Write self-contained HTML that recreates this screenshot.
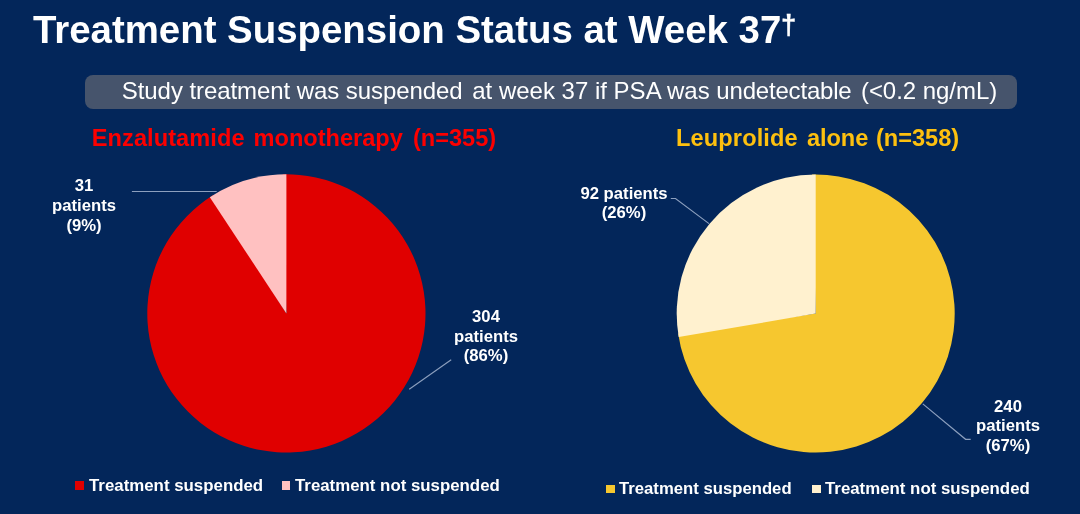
<!DOCTYPE html>
<html><head><meta charset="utf-8">
<style>
html,body{margin:0;padding:0;}
body{width:1080px;height:514px;background:#03265a;overflow:hidden;position:relative;font-family:"Liberation Sans",sans-serif;color:#fff;}
.abs{position:absolute;white-space:nowrap;}
#title{left:32.9px;top:8.4px;font-size:38.42px;font-weight:bold;line-height:44px;}
#title sup{font-size:27.5px;vertical-align:baseline;position:relative;top:-9.7px;margin-left:-0.4px;-webkit-text-stroke:0.4px #fff;}
#banner{left:84.6px;top:74.7px;width:932.2px;height:34.1px;background:#46546c;border-radius:8px;}
#bannertext{left:121.8px;top:77.4px;font-size:24px;line-height:28px;height:28px;}
.w span{position:absolute;top:0;white-space:pre;}
.h{font-weight:bold;font-size:23.6px;line-height:26px;height:26px;width:1080px;}
#h1{left:0;top:124.5px;color:#fc0000;}
#h2{left:0;top:124.5px;color:#fdc00f;}
.lab{font-weight:bold;font-size:15.6px;line-height:19.7px;text-align:center;transform:scaleX(1.07);transform-origin:50% 50%;}
.leg{font-weight:bold;font-size:16.5px;line-height:19px;transform:scaleX(1.02);transform-origin:0 50%;}
.sq{position:absolute;width:8.7px;height:8.7px;}
</style></head><body>
<div class="abs" id="title">Treatment Suspension Status at Week 37<sup>†</sup></div>
<div class="abs" id="banner"></div>
<div class="abs" id="bannertext"><span style="letter-spacing:-0.07px">Study treatment was suspended</span><span style="margin-left:2.9px"> at week 37 if PSA was </span><span style="letter-spacing:-0.19px">undetectable</span><span style="margin-left:2.8px;letter-spacing:-0.04px"> (&lt;0.2 ng/mL)</span></div>
<div class="abs h w" id="h1"><span style="left:91.8px;letter-spacing:0.06px">Enzalutamide </span><span style="left:253.6px;letter-spacing:-0.02px">monotherapy </span><span style="left:412.9px;letter-spacing:0.00px">(n=355)</span></div>
<div class="abs h w" id="h2"><span style="left:676.1px;letter-spacing:0.10px">Leuprolide </span><span style="left:807.0px;letter-spacing:-0.08px">alone </span><span style="left:876.0px;letter-spacing:-0.03px">(n=358)</span></div>
<svg class="abs" style="left:0;top:0" width="1080" height="514" viewBox="0 0 1080 514">
  <path d="M286.4 313.4 L282.76 174.35 A139.1 139.1 0 1 1 212.89 195.31 Z" fill="#e00000"/>
  <path d="M286.4 313.4 L209.83 197.27 A139.1 139.1 0 0 1 286.40 174.30 Z" fill="#ffc1c1"/>
  <path d="M815.7 313.5 L812.06 174.55 A139.0 139.0 0 1 1 678.14 333.47 Z" fill="#f6c72f"/>
  <path d="M815.7 313.5 L678.71 337.06 A139.0 139.0 0 0 1 815.70 174.50 Z" fill="#fff1cf"/>
  <g stroke="#8c9fbe" stroke-width="1.15" fill="none">
    <path d="M131.9 191.45 L216.7 191.45"/>
    <path d="M451.2 359.8 L409.2 389.2"/>
    <path d="M670.8 198.5 L675.5 198.5 L709 223.6"/>
    <path d="M922.8 403.9 L965.6 439.3 L970.7 439.3"/>
  </g>
</svg>
<div class="abs lab" id="l1" style="left:44px;width:80px;top:176.4px;">31<br>patients<br>(9%)</div>
<div class="abs lab" id="l2" style="left:445.7px;width:80px;top:306.8px;">304<br>patients<br>(86%)</div>
<div class="abs lab" id="l3" style="left:574px;width:100px;top:183.7px;">92 patients<br>(26%)</div>
<div class="abs lab" id="l4" style="left:968.2px;width:80px;top:396.5px;">240<br>patients<br>(67%)</div>

<div class="sq" style="left:75.3px;top:481.1px;background:#e00000"></div>
<div class="abs leg" id="g1" style="left:88.8px;top:476px;transform:scaleX(1.021)">Treatment suspended</div>
<div class="sq" style="left:281.7px;top:481.1px;background:#ffc1c1"></div>
<div class="abs leg" id="g2" style="left:294.6px;top:476px;">Treatment not suspended</div>
<div class="sq" style="left:606.2px;top:484.8px;background:#f6c72f"></div>
<div class="abs leg" id="g3" style="left:618.9px;top:479.4px;transform:scaleX(1.012)">Treatment suspended</div>
<div class="sq" style="left:812.2px;top:484.8px;background:#fff1cf"></div>
<div class="abs leg" id="g4" style="left:824.8px;top:479.4px;">Treatment not suspended</div>
</body></html>
